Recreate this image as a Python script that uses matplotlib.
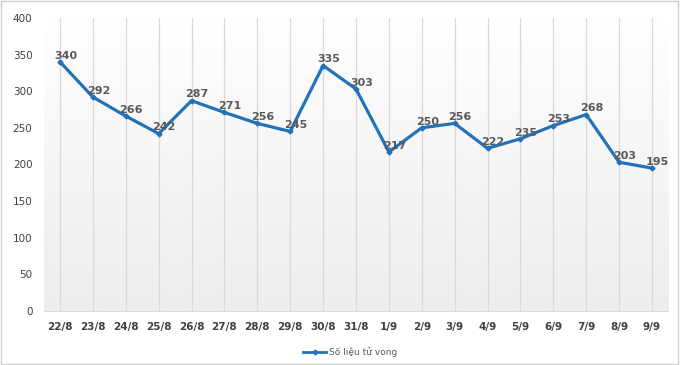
import numpy as np
import matplotlib
matplotlib.use("Agg")
import matplotlib.pyplot as plt
from matplotlib.lines import Line2D
from matplotlib.patches import Rectangle

days = ["22/8", "23/8", "24/8", "25/8", "26/8", "27/8", "28/8", "29/8", "30/8", "31/8",
        "1/9", "2/9", "3/9", "4/9", "5/9", "6/9", "7/9", "8/9", "9/9"]
deaths = [340, 292, 266, 242, 287, 271, 256, 245, 335, 303,
          217, 250, 256, 222, 235, 253, 268, 203, 195]
yticks = [0, 50, 100, 150, 200, 250, 300, 350, 400]

BLUE = "#2372b9"
GRID = "#d9d9d9"
LABEL = "#595959"

fig = plt.figure(figsize=(6.8, 3.65), dpi=100)
ax = fig.add_axes([0.064, 0.148, 0.919, 0.803])

x = np.arange(len(days))
ax.set_xlim(-0.5, len(days) - 0.5)
ax.set_ylim(0, 400)

# soft white (top) to grey (bottom) background like the Excel chart
grad = np.linspace(0.0, 1.0, 256).reshape(-1, 1)
ax.imshow(grad, extent=(-0.5, len(days) - 0.5, 0, 400), aspect="auto",
          cmap=matplotlib.colors.LinearSegmentedColormap.from_list("bg", ["#ffffff", "#ededed"]),
          origin="upper", zorder=0, vmin=0, vmax=1)

for xi in x:
    ax.axvline(xi, color=GRID, lw=0.9, zorder=1)

ax.plot(x, deaths, color=BLUE, lw=2.3, marker="D", ms=2.5, zorder=3)
for xi, v in zip(x, deaths):
    ax.annotate(str(v), (xi, v), textcoords="offset points", xytext=(4, 4.5),
                ha="center", va="center", fontsize=8, color=LABEL, weight="semibold", zorder=4)

ax.set_xticks(x)
ax.set_xticklabels(days, fontsize=7.5, weight="bold", color="#404040")
ax.set_yticks(yticks)
ax.set_yticklabels([str(t) for t in yticks], fontsize=7.5, color="#404040")
ax.tick_params(length=0, pad=8)
ax.tick_params(axis="y", pad=8)
for s in ["top", "right", "left"]:
    ax.spines[s].set_visible(False)
ax.spines["bottom"].set_color(GRID)

handle = Line2D([], [], color=BLUE, lw=2, marker="D", ms=2.5)
fig.legend([handle], ["Số liệu tử vong"], loc="center", bbox_to_anchor=(0.515, 0.035),
           frameon=False, fontsize=6.5, labelcolor="#595959", handlelength=2.6,
           handletextpad=0.3)

fig.patches.append(Rectangle((0.002, 0.003), 0.995, 0.993, transform=fig.transFigure,
                             fill=False, edgecolor="#d0d0d0", lw=1))

fig.savefig("out.png", dpi=100)
